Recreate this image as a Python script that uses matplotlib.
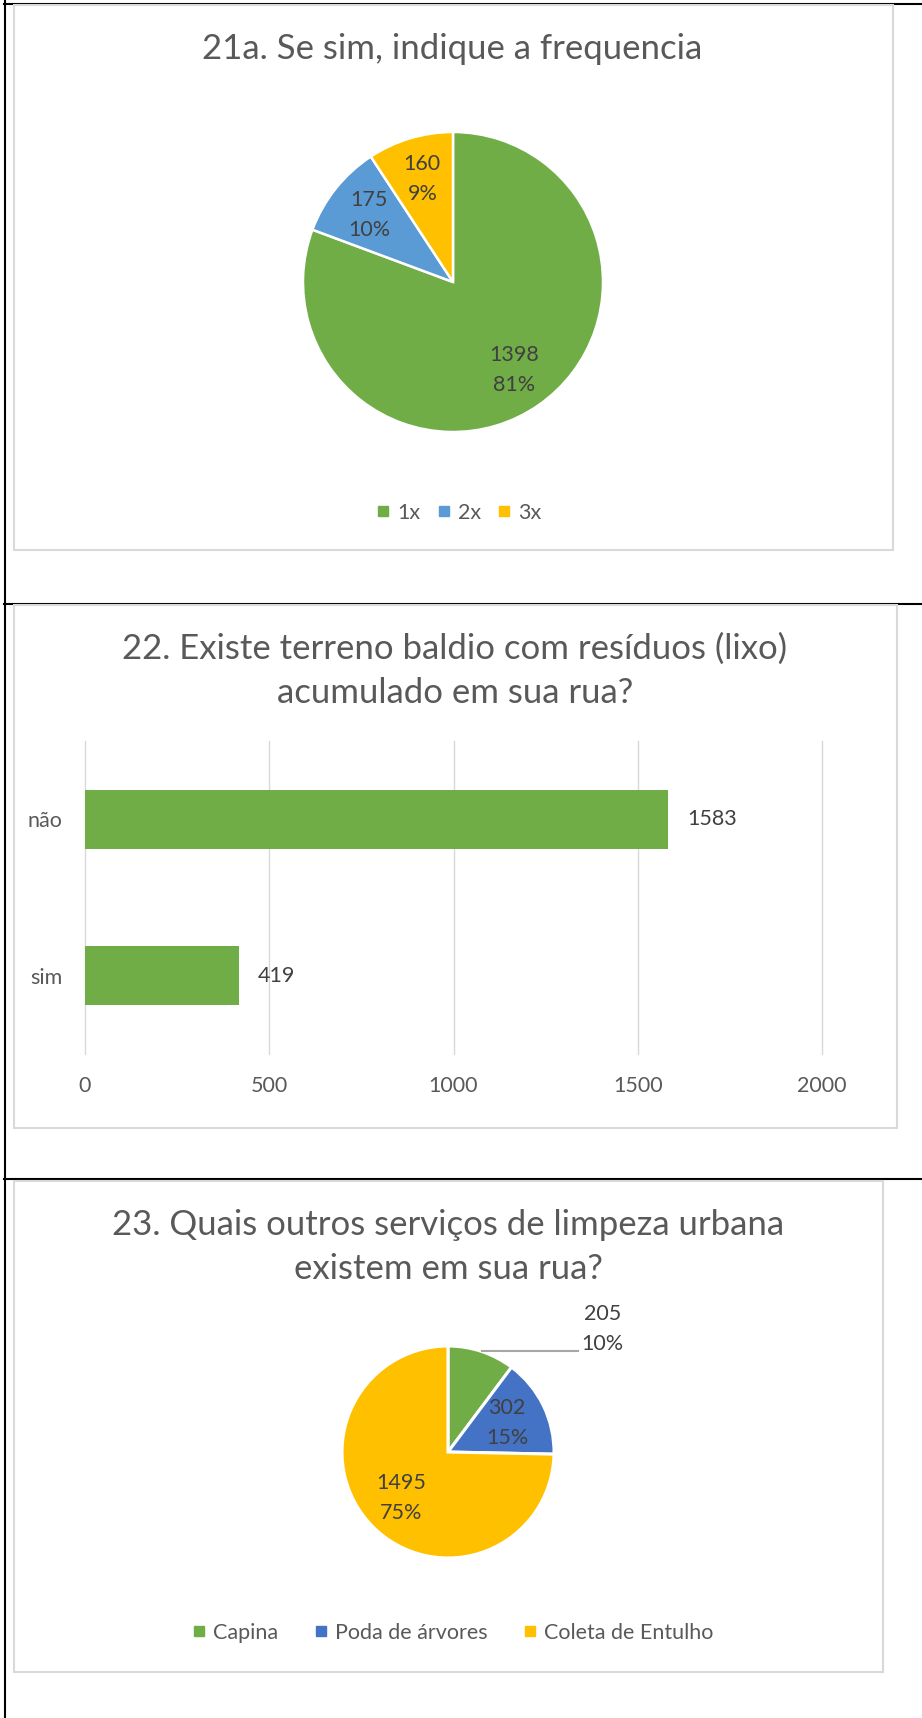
import matplotlib
matplotlib.use("Agg")
import matplotlib.pyplot as plt
import numpy as np
from matplotlib.lines import Line2D
from matplotlib.patches import Rectangle

plt.rcParams['font.family'] = ['Lato', 'DejaVu Sans']

# chart 21a
freq_labels = ['1x', '2x', '3x']
freq_values = [1398, 175, 160]
freq_colors = ['#70AD47', '#5B9BD5', '#FFC000']

# chart 22
lot_labels = ['sim', 'não']
lot_values = [419, 1583]
lot_ticks = [0, 500, 1000, 1500, 2000]

# chart 23
serv_labels = ['Capina', 'Poda de árvores', 'Coleta de Entulho']
serv_values = [205, 302, 1495]
serv_colors = ['#70AD47', '#4472C4', '#FFC000']

W, H = 922, 1718
TITLE_C = '#595959'
LABEL_C = '#404040'
GRID_C = '#D9D9D9'

fig = plt.figure(figsize=(W / 100, H / 100), dpi=100)


def fx(x):
    return x / W


def fy(y):
    return 1 - y / H


def px_axes(x0, y0, w, h):
    return fig.add_axes([x0 / W, 1 - (y0 + h) / H, w / W, h / H])


# page table lines and chart frames (behind the axes)
fig.add_artist(Line2D([fx(5), fx(5)], [0, 1], color='black', lw=1.5,
                      transform=fig.transFigure, zorder=-6))
for y in [4, 603.5, 1179]:
    fig.add_artist(Line2D([fx(4), 1], [fy(y), fy(y)], color='black', lw=1.5,
                          transform=fig.transFigure, zorder=-6))
for x0, y0, x1, y1 in [(14, 5, 893, 550), (14, 605, 897, 1128), (14, 1181, 883, 1672)]:
    fig.add_artist(Rectangle((fx(x0), fy(y1)), fx(x1) - fx(x0), fy(y0) - fy(y1),
                             facecolor='white', edgecolor=GRID_C, lw=1.5,
                             transform=fig.transFigure, zorder=-5))


def pie_text(v, total):
    return f"{v}\n{v / total:.0%}"


def legend(labels, colors, xc, yc, colspace):
    handles = [Line2D([], [], ls='', marker='s', markersize=6.5, color=c) for c in colors]
    fig.legend(handles, labels, loc='center', bbox_to_anchor=(fx(xc), fy(yc)),
               ncol=len(labels), frameon=False, fontsize=15.5, handlelength=0.6,
               handletextpad=0.35, columnspacing=colspace, labelcolor=TITLE_C)


# ---- 21a pie
cx, cy, r = 453, 282, 150
ax1 = px_axes(cx - 1.25 * r, cy - 1.25 * r, 2.5 * r, 2.5 * r)
total1 = sum(freq_values)
w1, _, t1 = ax1.pie(freq_values, colors=freq_colors, startangle=90, counterclock=False,
                    autopct='%1.0f', pctdistance=0.715,
                    wedgeprops=dict(edgecolor='white', linewidth=1.8))
for t, v in zip(t1, freq_values):
    t.set_text(pie_text(v, total1))
    t.set_fontsize(15.5)
    t.set_color(LABEL_C)
    t.set_linespacing(1.6)
fig.text(fx(452), fy(49), '21a. Se sim, indique a frequencia', ha='center', va='center',
         fontsize=25, color=TITLE_C)
legend(freq_labels, freq_colors, 459, 513, 0.8)

# ---- 22 bars
ax2 = px_axes(85, 741, 737, 313)
bars = ax2.barh(lot_labels, lot_values, height=0.377, color='#70AD47', zorder=2)
ax2.set_xlim(0, 2000)
ax2.set_ylim(-0.5, 1.5)
ax2.set_xticks(lot_ticks)
for t in lot_ticks:
    ax2.axvline(t, color=GRID_C, lw=1, zorder=0, clip_on=False)
for s in ax2.spines.values():
    s.set_visible(False)
ax2.tick_params(length=0, labelsize=15.5, labelcolor=TITLE_C)
ax2.tick_params(axis='x', pad=16)
ax2.tick_params(axis='y', pad=16)
ax2.bar_label(bars, padding=13.5, fontsize=15.5, color=LABEL_C)
fig.text(fx(455), fy(671), '22. Existe terreno baldio com resíduos (lixo)\nacumulado em sua rua?',
         ha='center', va='center', fontsize=25, color=TITLE_C, linespacing=1.45)

# ---- 23 pie
cx, cy, r = 448, 1452, 106
ax3 = px_axes(cx - 1.25 * r, cy - 1.25 * r, 2.5 * r, 2.5 * r)
total3 = sum(serv_values)
w3, _, t3 = ax3.pie(serv_values, colors=serv_colors, startangle=90, counterclock=False,
                    autopct='%1.0f', pctdistance=0.62,
                    wedgeprops=dict(edgecolor='white', linewidth=2.2))
for t, v in zip(t3, serv_values):
    t.set_text(pie_text(v, total3))
    t.set_fontsize(15.5)
    t.set_color(LABEL_C)
    t.set_linespacing(1.6)
# outside label with leader line for the first slice
mid = np.deg2rad((w3[0].theta1 + w3[0].theta2) / 2)
sx, sy = np.cos(mid), np.sin(mid)
ax3.plot([sx, 1.23], [sy, sy], color='#A6A6A6', lw=1.5, clip_on=False)
t3[0].set_position((1.46, 1.16))
fig.text(fx(448), fy(1247), '23. Quais outros serviços de limpeza urbana\nexistem em sua rua?',
         ha='center', va='center', fontsize=25, color=TITLE_C, linespacing=1.45)
legend(serv_labels, serv_colors, 453, 1633, 1.7)

fig.savefig('out.png', dpi=100)
